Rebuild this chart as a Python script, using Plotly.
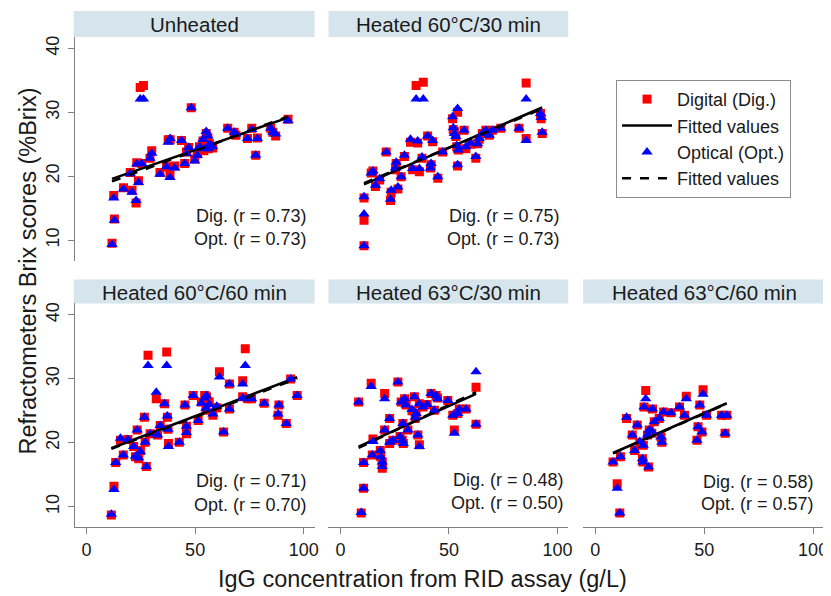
import numpy as np
import plotly.graph_objects as go

# ---------------- data ----------------
panel_titles = ["Unheated", "Heated 60°C/30 min", "Heated 60°C/60 min",
                "Heated 63°C/30 min", "Heated 63°C/60 min"]
r_dig = ["0.73", "0.75", "0.71", "0.48", "0.58"]
r_opt = ["0.73", "0.73", "0.70", "0.50", "0.57"]

unheated_igg = [11.7, 12.8, 12.5, 17.0, 20.9, 22.8, 20.1, 23.9, 23.1, 25.4, 24.7, 26.2, 30.0, 29.2, 33.8,
                37.6, 38.5, 43.7, 38.4, 40.6, 36.8, 45.2, 48.2, 46.0, 49.8, 52.0, 53.6, 55.1, 55.9, 58.1,
                56.6, 65.0, 68.0, 68.8, 74.1, 76.1, 78.7, 77.9, 84.8, 87.1, 85.8, 92.8, 51.0, 54.0, 47.0, 56.0]
unheated_dig = [9.5, 13.3, 17.0, 18.2, 17.8, 15.8, 20.6, 19.3, 22.1, 22.0, 33.9, 34.2, 24.0, 22.8, 20.6,
                25.7, 25.7, 25.6, 20.2, 21.6, 21.5, 22.0, 30.7, 23.8, 22.7, 24.6, 25.5, 26.7, 26.0, 24.4,
                25.1, 27.5, 26.9, 26.4, 25.9, 27.5, 26.0, 23.3, 27.5, 26.3, 26.9, 28.9, 23.5, 24.0, 24.5, 24.3]
unheated_opt = [9.3, 13.1, 16.6, 18.0, 17.5, 16.2, 20.4, 19.0, 21.9, 22.0, 32.1, 32.1, 23.6, 22.8, 20.3,
                25.3, 25.9, 25.6, 19.8, 21.3, 21.5, 22.0, 30.7, 23.5, 22.4, 24.6, 25.8, 27.0, 26.3, 24.6,
                25.0, 27.5, 26.9, 26.6, 25.9, 27.3, 25.9, 23.3, 27.5, 26.6, 26.9, 28.7, 23.3, 24.3, 24.5, 24.3]

h6030_igg = [10.9, 10.9, 10.9, 14.2, 15.0, 16.2, 18.1, 21.1, 23.4, 23.1, 26.5, 25.7, 25.4, 28.0, 29.5,
             32.3, 35.6, 34.9, 38.2, 33.3, 36.4, 37.6, 40.2, 42.5, 41.8, 44.9, 41.5, 47.1, 51.7, 52.0,
             54.0, 53.2, 53.6, 52.5, 54.3, 54.0, 57.0, 57.8, 63.2, 62.4, 65.4, 67.0, 64.0, 68.6, 73.9,
             82.3, 85.6, 85.6, 92.2, 92.5, 93.0, 60.0, 70.0]
h6030_dig = [9.1, 13.1, 16.6, 20.5, 20.8, 18.4, 19.4, 23.8, 17.5, 16.2, 18.0, 22.0, 21.0, 19.9, 23.1,
             25.3, 25.2, 34.2, 34.7, 21.0, 20.7, 22.8, 26.3, 25.4, 21.8, 19.7, 21.3, 23.8, 29.0, 27.3,
             30.0, 26.2, 24.6, 27.0, 24.1, 21.6, 27.2, 24.3, 25.1, 22.8, 26.7, 27.2, 25.8, 26.4, 27.5,
             27.5, 34.6, 25.9, 29.8, 29.0, 26.7, 25.0, 27.2]
h6030_opt = [9.1, 14.1, 16.8, 20.5, 20.8, 18.6, 19.6, 23.8, 17.8, 16.4, 18.3, 22.2, 21.3, 19.9, 23.3,
             25.8, 25.5, 32.1, 32.1, 21.2, 21.2, 23.0, 26.3, 25.6, 22.0, 19.9, 21.3, 23.8, 29.3, 27.6,
             30.6, 26.2, 24.8, 26.7, 24.1, 21.8, 27.2, 24.6, 25.1, 23.1, 26.7, 27.2, 25.9, 26.4, 27.5,
             27.5, 32.1, 25.6, 29.8, 29.2, 26.9, 25.2, 27.2]

h6060_igg = [11.4, 12.6, 13.4, 15.6, 16.9, 19.0, 21.7, 22.5, 23.3, 24.0, 24.8, 26.6, 27.5, 27.0, 28.3,
             29.3, 32.1, 32.7, 33.9, 35.9, 36.9, 37.2, 37.7, 37.5, 42.7, 45.3, 46.0, 46.0, 49.1, 51.4,
             52.9, 54.4, 55.2, 55.0, 56.5, 58.2, 61.2, 63.1, 65.8, 65.8, 71.9, 73.1, 71.9, 74.2, 76.0,
             81.8, 88.6, 88.2, 92.0, 94.0, 97.0, 60.0]
h6060_dig = [8.7, 13.2, 16.9, 20.4, 18.1, 20.5, 19.4, 17.8, 22.0, 17.5, 18.8, 24.0, 16.3, 20.1, 33.7,
             21.4, 26.9, 21.2, 22.7, 26.1, 34.2, 24.0, 19.9, 22.1, 20.1, 25.9, 21.4, 22.6, 27.4, 23.5,
             26.4, 27.4, 27.2, 25.1, 26.4, 24.3, 31.1, 21.7, 29.2, 25.3, 29.7, 34.7, 27.2, 26.9, 26.9,
             26.2, 25.9, 24.3, 23.0, 30.0, 27.4, 25.5]
h6060_opt = [8.8, 12.7, 16.9, 20.7, 18.1, 20.5, 19.4, 17.9, 22.0, 17.6, 18.6, 24.0, 16.3, 20.1, 32.1,
             21.4, 27.9, 21.2, 22.7, 26.1, 32.1, 24.2, 19.4, 22.1, 20.1, 25.9, 21.6, 22.6, 27.4, 23.5,
             26.2, 27.0, 27.4, 25.4, 26.0, 24.5, 30.3, 21.7, 29.2, 25.3, 29.2, 32.1, 27.0, 26.9, 26.9,
             26.2, 25.9, 24.5, 23.0, 30.0, 27.4, 25.7]

h6330_igg = [9.6, 10.7, 10.7, 8.4, 14.2, 15.0, 14.7, 18.4, 18.6, 19.3, 19.3, 20.4, 20.4, 22.7, 22.7,
             24.2, 26.5, 28.0, 29.6, 28.8, 28.5, 29.0, 27.5, 31.1, 30.3, 34.1, 34.9, 34.5, 36.4, 35.7,
             36.4, 38.0, 41.8, 44.1, 44.8, 43.3, 49.5, 51.8, 52.5, 54.1, 54.8, 57.9, 62.5, 62.5, 33.0, 40.0]
h6330_dig = [9.0, 12.9, 16.9, 26.4, 29.3, 20.6, 18.1, 18.8, 17.8, 17.0, 16.0, 27.7, 22.0, 23.8, 19.9,
             20.4, 29.5, 26.4, 26.9, 23.0, 20.4, 19.9, 21.0, 22.0, 25.9, 27.2, 24.6, 23.8, 26.1, 21.2,
             19.7, 25.6, 27.7, 27.4, 27.0, 25.1, 26.6, 24.3, 22.0, 24.6, 25.3, 25.3, 28.7, 22.9, 25.0, 26.0]
h6330_opt = [9.1, 12.9, 16.9, 26.4, 28.8, 20.2, 18.1, 18.8, 17.8, 17.0, 16.3, 26.9, 22.0, 23.8, 20.1,
             20.4, 29.5, 26.4, 26.9, 23.0, 20.4, 19.9, 21.0, 22.0, 25.9, 27.2, 24.6, 24.0, 26.1, 21.2,
             19.4, 25.6, 27.7, 27.4, 26.9, 25.1, 26.6, 24.3, 21.5, 24.6, 25.3, 25.3, 31.1, 22.9, 25.2, 26.0]

h6360_igg = [11.3, 10.1, 8.2, 11.6, 14.4, 17.0, 18.1, 19.3, 21.7, 21.9, 23.2, 22.4, 22.1, 24.0, 24.8,
             24.5, 26.3, 27.1, 29.4, 30.2, 30.6, 31.4, 34.8, 38.7, 41.0, 41.8, 47.2, 46.7, 48.0, 49.0,
             49.5, 51.1, 58.0, 60.4, 59.6, 20.5, 26.0]
h6360_dig = [9.0, 13.6, 17.0, 17.8, 23.8, 21.2, 18.8, 22.8, 17.5, 17.0, 28.2, 25.6, 19.6, 21.2, 22.0,
             16.2, 25.3, 23.3, 23.8, 20.9, 20.1, 24.8, 24.7, 25.6, 24.3, 27.3, 22.5, 20.4, 25.9, 21.7,
             28.3, 24.3, 24.3, 24.3, 21.5, 20.0, 21.5]
h6360_opt = [9.0, 12.9, 17.0, 17.8, 24.0, 21.2, 18.8, 22.8, 17.5, 17.0, 26.9, 25.6, 19.6, 21.2, 22.0,
             16.2, 25.3, 23.3, 23.8, 20.9, 20.1, 24.8, 24.7, 25.6, 24.3, 26.9, 22.5, 20.4, 25.9, 21.7,
             27.6, 24.3, 24.3, 24.3, 21.5, 20.2, 21.8]

x_ticks = [0, 50, 100]
y_ticks = [10, 20, 30, 40]

panels = [
    (unheated_igg, unheated_dig, unheated_opt),
    (h6030_igg, h6030_dig, h6030_opt),
    (h6060_igg, h6060_dig, h6060_opt),
    (h6330_igg, h6330_dig, h6330_opt),
    (h6360_igg, h6360_dig, h6360_opt),
]

# ---------------- layout geometry (screen pixels) ----------------
# the page body has an 8px margin, so the figure starts at (8, 8)
OFF = 8
W, H = 823, 588
def px(x):
    return (x - OFF) / W
def py(y):
    return 1 - (y - OFF) / H

col_px = [(75, 316), (330, 571), (586, 828)]
row_px = [(36, 260), (303, 527)]
strip_px = [(10, 36), (279, 303)]
strip_col_px = [(74, 316), (330, 571), (586, 830)]
grid = [(0, 0), (0, 1), (1, 0), (1, 1), (1, 2)]
ann_pos = [(310, 215, 238), (565, 215, 238), (310, 481, 505), (569, 480, 503), (820, 482, 504)]

FONT = "Liberation Sans, Arial, Helvetica, sans-serif"
AX_COLOR = "#7f7f7f"
TXT = "#1a1a1a"
STRIP = "#d6e4eb"

fig = go.Figure()
layout = dict()
shapes = []
annotations = []

for i, (igg, dig, opt) in enumerate(panels):
    r, c = grid[i]
    n = "" if i == 0 else str(i + 1)
    xa, ya = "x" + n, "y" + n
    igg_a = np.array(igg); dig_a = np.array(dig); opt_a = np.array(opt)
    xs = np.array([igg_a.min(), igg_a.max()])
    pd_ = np.polyfit(igg_a, dig_a, 1)
    po_ = np.polyfit(igg_a, opt_a, 1)
    show = (i == 0)
    fig.add_trace(go.Scatter(x=igg, y=dig, mode="markers", name="Digital (Dig.)",
                             marker=dict(symbol="square", size=9, color="#ff0000", line=dict(width=0)),
                             xaxis=xa, yaxis=ya, showlegend=show, legendrank=1))
    fig.add_trace(go.Scatter(x=xs, y=np.polyval(pd_, xs), mode="lines", name="Fitted values",
                             line=dict(color="black", width=2.6),
                             xaxis=xa, yaxis=ya, showlegend=show, legendrank=2))
    fig.add_trace(go.Scatter(x=igg, y=opt, mode="markers", name="Optical (Opt.)",
                             marker=dict(symbol="triangle-up", size=10, color="#0000ff", line=dict(width=0)),
                             xaxis=xa, yaxis=ya, showlegend=show, legendrank=3))
    fig.add_trace(go.Scatter(x=xs, y=np.polyval(po_, xs), mode="lines", name="Fitted values ",
                             line=dict(color="black", width=2.6, dash="dash"),
                             xaxis=xa, yaxis=ya, showlegend=show, legendrank=4))

    bottom = (r == 1)
    left = (c == 0)
    layout["xaxis" + n] = dict(domain=[px(col_px[c][0]), px(col_px[c][1])], range=[-5.5, 105],
                               anchor=ya, showgrid=False, zeroline=False,
                               visible=bottom, showline=bottom, linecolor=AX_COLOR, linewidth=1,
                               ticks="outside", ticklen=6, tickcolor=AX_COLOR, tickwidth=1,
                               tickvals=x_ticks, ticklabelstandoff=0,
                               tickfont=dict(family=FONT, size=18, color=TXT))
    layout["yaxis" + n] = dict(domain=[py(row_px[r][1]), py(row_px[r][0])], range=[6.8, 41.8],
                               anchor=xa, showgrid=False, zeroline=False,
                               visible=left, showline=left, linecolor=AX_COLOR, linewidth=1,
                               ticks="outside", ticklen=6, tickcolor=AX_COLOR, tickwidth=1,
                               tickvals=y_ticks, tickangle=-90, ticklabelstandoff=1,
                               tickfont=dict(family=FONT, size=18, color=TXT))
    sx0, sx1 = strip_col_px[c]
    sy0, sy1 = strip_px[r]
    shapes.append(dict(type="rect", xref="paper", yref="paper", x0=px(sx0), x1=px(sx1),
                       y0=py(sy1), y1=py(sy0), fillcolor=STRIP, line=dict(width=0), layer="below"))
    annotations.append(dict(text=panel_titles[i], xref="paper", yref="paper",
                            x=px((sx0 + sx1) / 2), y=py((sy0 + sy1) / 2 + 0.5),
                            xanchor="center", yanchor="middle", showarrow=False,
                            font=dict(family=FONT, size=20.5, color=TXT)))
    ax_, ay1, ay2 = ann_pos[i]
    annotations.append(dict(text=f"Dig. (r = {r_dig[i]})", xref="paper", yref="paper",
                            x=px(ax_), y=py(ay1), xanchor="right", yanchor="middle", showarrow=False,
                            font=dict(family=FONT, size=18, color=TXT)))
    annotations.append(dict(text=f"Opt. (r = {r_opt[i]})", xref="paper", yref="paper",
                            x=px(ax_), y=py(ay2), xanchor="right", yanchor="middle", showarrow=False,
                            font=dict(family=FONT, size=18, color=TXT)))

annotations.append(dict(text="Refractometers Brix scores (%Brix)", xref="paper", yref="paper",
                        x=px(28), y=py(270), xanchor="center", yanchor="middle", textangle=-90,
                        showarrow=False, font=dict(family=FONT, size=23.5, color=TXT)))
annotations.append(dict(text="IgG concentration from RID assay (g/L)", xref="paper", yref="paper",
                        x=px(425), y=py(579), xanchor="center", yanchor="middle",
                        showarrow=False, font=dict(family=FONT, size=23.5, color=TXT)))

fig.update_layout(
    width=W, height=H,
    margin=dict(l=0, r=0, t=0, b=0),
    paper_bgcolor="white", plot_bgcolor="white",
    shapes=shapes, annotations=annotations,
    legend=dict(x=px(619), y=py(79), xanchor="left", yanchor="top",
                bordercolor="#8c8c8c", borderwidth=1, bgcolor="white",
                font=dict(family=FONT, size=18, color=TXT),
                itemwidth=50, traceorder="normal"),
    **layout,
)

fig.write_html("out.html")
